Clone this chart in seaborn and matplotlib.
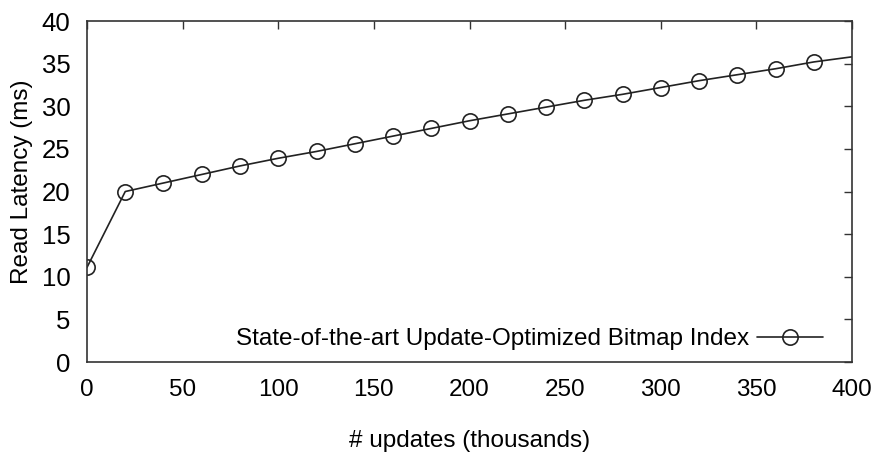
import matplotlib
matplotlib.use("Agg")
import matplotlib.pyplot as plt
from matplotlib import font_manager
import seaborn as sns
import pandas as pd

# Read latency as the number of updates grows
updates_k = [0, 20, 40, 60, 80, 100, 120, 140, 160, 180, 200,
             220, 240, 260, 280, 300, 320, 340, 360, 380, 400]
latency_ms = [11.1, 20.0, 21.0, 22.0, 23.0, 23.9, 24.7, 25.6, 26.5, 27.4, 28.3,
              29.1, 29.9, 30.7, 31.4, 32.2, 33.0, 33.7, 34.4, 35.2, 35.8]
series_name = "State-of-the-art Update-Optimized Bitmap Index"
x_ticks = [0, 50, 100, 150, 200, 250, 300, 350, 400]
y_ticks = [0, 5, 10, 15, 20, 25, 30, 35, 40]

df = pd.DataFrame({"updates": updates_k, "latency": latency_ms})

sns.set_theme(style="white")
plt.rcParams["font.family"] = ["Liberation Sans", "DejaVu Sans"]

fig = plt.figure(figsize=(8.77, 4.54), dpi=100)
ax = fig.add_axes([0.0992, 0.2026, 0.8723, 0.7511])

sns.lineplot(data=df, x="updates", y="latency", ax=ax, color="#222222",
             linewidth=1.2, marker="o", markersize=11, markerfacecolor="none",
             markeredgecolor="#222222", markeredgewidth=1.2,
             markevery=list(range(len(updates_k) - 1)),
             label=series_name)

ax.set_xlim(0, 400)
ax.set_ylim(0, 40)
ax.set_xticks(x_ticks)
ax.set_yticks(y_ticks)
ax.set_xticklabels([str(t) for t in x_ticks], fontsize=17.5)
ax.set_yticklabels([str(t) for t in y_ticks], fontsize=18.5)
ax.tick_params(axis="both", direction="in", length=6, width=1.0, color="#333333",
               top=True, right=True, labelcolor="black")
ax.tick_params(axis="x", pad=12)
ax.tick_params(axis="y", pad=12)
for s in ax.spines.values():
    s.set_visible(True)
    s.set_color("#333333")
    s.set_linewidth(1.2)

ax.set_xlabel("# updates (thousands)", fontsize=17.5, labelpad=21, color="black")
ax.set_ylabel("Read Latency (ms)", fontsize=17.5, color="black")
ax.yaxis.set_label_coords(-0.0706, 0.528)

leg = ax.legend(loc="lower right", bbox_to_anchor=(0.962, 0.035),
                frameon=False, markerfirst=False, borderpad=0,
                borderaxespad=0, handlelength=2.7, handletextpad=0.35,
                labelcolor="black",
                prop=font_manager.FontProperties(family="Liberation Sans", size=17.5))

fig.savefig("out.png", dpi=100)
